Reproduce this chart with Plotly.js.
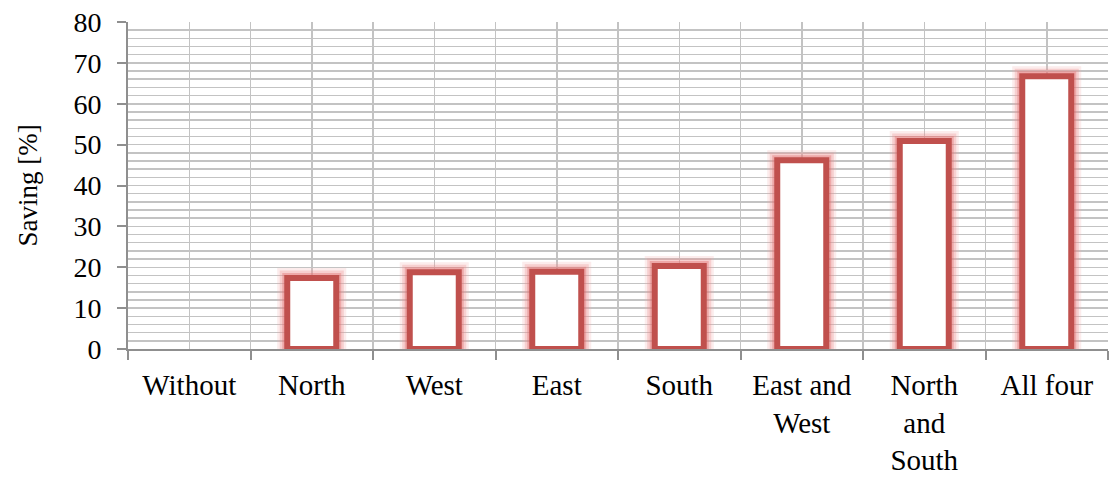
<!DOCTYPE html>
<html>
<head>
<meta charset="utf-8">
<script src="https://cdn.plot.ly/plotly-3.0.1.min.js"></script>
<style>html,body{margin:0;padding:0;background:#fff;}#chart{width:1110px;height:477px;}</style>
</head>
<body>
<div id="chart"></div>
<script>
const categories = ["Without", "North", "West", "East", "South", "East and<br>West", "North<br>and<br>South", "All four"];
const savings = [0, 17.4, 18.8, 18.9, 20.3, 46.2, 50.9, 66.7];
const yTitle = "Saving [%]";

const xpos = categories.map((_, i) => i);
const boundaries = categories.map((_, i) => i - 0.5).concat([categories.length - 0.5]);
const barVals = savings.map(v => v === 0 ? null : v);

const red = "#C0504D";
const glowLayers = [
  {w: 20, c: "rgba(240,170,170,0.22)"},
  {w: 15, c: "rgba(235,140,140,0.30)"},
  {w: 10, c: "rgba(225,110,110,0.40)"}
];
const traces = glowLayers.map(g => ({
  type: "bar", x: xpos, y: barVals, width: 0.4,
  marker: {color: "rgba(0,0,0,0)", line: {color: g.c, width: g.w}},
  hoverinfo: "skip", showlegend: false
}));
traces.push({
  type: "bar", x: xpos, y: barVals, width: 0.4,
  marker: {color: "#ffffff", line: {color: red, width: 6}},
  showlegend: false
});

const gridCol = "#c3c3c3";
const axisCol = "#8f8f8f";
const font = "'Liberation Serif', 'Times New Roman', serif";

const layout = {
  width: 1110, height: 477,
  margin: {l: 128, r: 2, t: 22, b: 128},
  paper_bgcolor: "#fff", plot_bgcolor: "#fff",
  barmode: "overlay",
  font: {family: font, color: "#000"},
  xaxis: {
    range: [-0.5, categories.length - 0.5],
    tickmode: "array", tickvals: xpos, ticktext: categories,
    ticks: "outside", ticklen: 9, tickcolor: "rgba(0,0,0,0)",
    showgrid: true, gridcolor: gridCol, gridwidth: 1.5,
    showline: true, linecolor: axisCol, linewidth: 2,
    tickfont: {size: 29, family: font, color: "#000"},
    minor: {tickmode: "array", tickvals: boundaries, showgrid: true, gridcolor: gridCol, gridwidth: 1.5,
            ticks: "outside", ticklen: 9, tickcolor: axisCol, tickwidth: 2},
    zeroline: false, fixedrange: true
  },
  yaxis: {
    range: [0, 80], dtick: 10, tick0: 0,
    ticks: "outside", ticklen: 9, tickcolor: axisCol, tickwidth: 2,
    ticklabelstandoff: 10,
    showgrid: true, gridcolor: gridCol, gridwidth: 1.5,
    minor: {dtick: 2, showgrid: true, gridcolor: gridCol, gridwidth: 1.5},
    showline: true, linecolor: axisCol, linewidth: 2,
    zeroline: false,
    tickfont: {size: 28, family: font, color: "#000"},
    title: {text: yTitle, font: {size: 27, family: font, color: "#000"}, standoff: 28},
    fixedrange: true
  }
};

Plotly.newPlot("chart", traces, layout, {displayModeBar: false, staticPlot: true});
</script>
</body>
</html>
